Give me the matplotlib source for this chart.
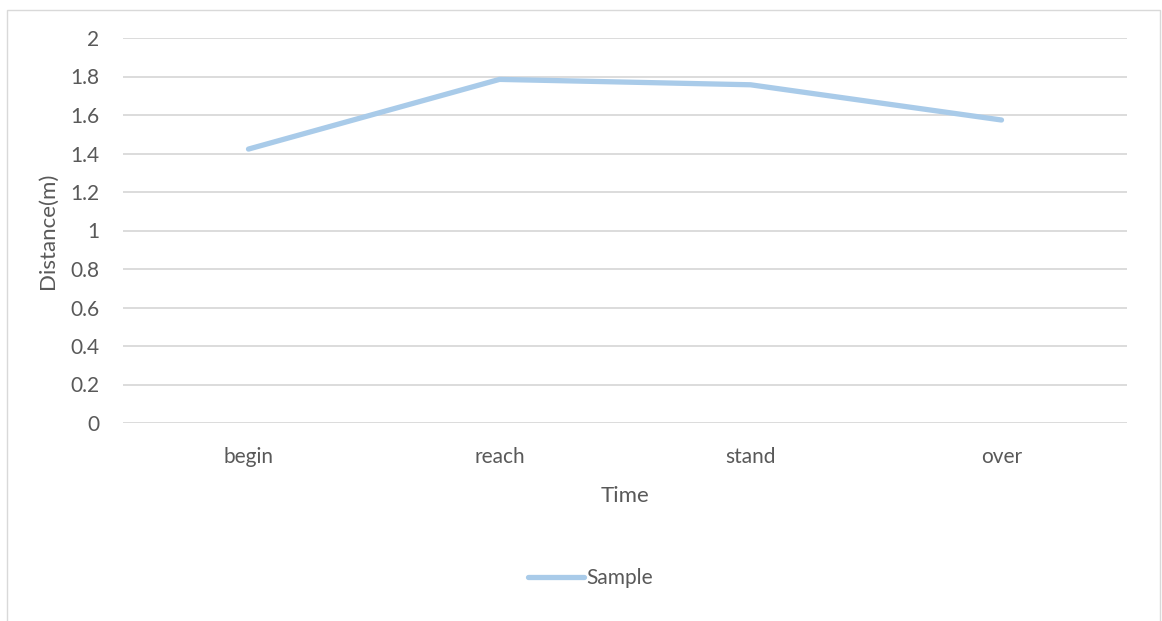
import matplotlib
matplotlib.use("Agg")
import matplotlib.pyplot as plt
from matplotlib.patches import Rectangle

categories = ["begin", "reach", "stand", "over"]
sample = [1.423, 1.785, 1.757, 1.574]
yticks = [0, 0.2, 0.4, 0.6, 0.8, 1, 1.2, 1.4, 1.6, 1.8, 2]
ytick_labels = ["0", "0.2", "0.4", "0.6", "0.8", "1", "1.2", "1.4", "1.6", "1.8", "2"]

W, H = 1162, 621
plt.rcParams["font.family"] = ["Lato", "DejaVu Sans"]
text_color = "#595959"
line_color = "#A9CBE9"
grid_color = "#D9D9D9"

fig = plt.figure(figsize=(W / 100, H / 100), dpi=100)
fig.patch.set_facecolor("white")

# outer chart border
fig.patches.append(Rectangle((7 / W, -0.05), (1160 - 7) / W, 1.05 - 10 / H,
                             transform=fig.transFigure, fill=False,
                             edgecolor="#D9D9D9", linewidth=1.0))

ax = fig.add_axes([123 / W, 1 - 423 / H, (1127 - 123) / W, (423 - 38) / H])
x = list(range(len(categories)))
ax.plot(x, sample, color=line_color, linewidth=3.8, solid_capstyle="round",
        solid_joinstyle="round", label="Sample", zorder=3)

ax.set_xlim(-0.5, len(categories) - 0.5)
ax.set_ylim(0, 2)
ax.set_yticks(yticks)
ax.set_yticklabels(ytick_labels)
ax.set_xticks(x)
ax.set_xticklabels(categories)
ax.yaxis.grid(True, color=grid_color, linewidth=1.3)
ax.set_axisbelow(True)
for s in ax.spines.values():
    s.set_visible(False)
ax.tick_params(axis="both", length=0, labelsize=15, colors=text_color)
ax.tick_params(axis="y", pad=17)
ax.tick_params(axis="x", pad=17)

ax.set_ylabel("Distance(m)", fontsize=16, color=text_color, labelpad=9)
ax.set_xlabel("Time", fontsize=16, color=text_color, labelpad=14)

leg = fig.legend(loc="center", bbox_to_anchor=(590 / W, 1 - 578 / H), frameon=False,
                 fontsize=15, handlelength=2.7, handletextpad=0.1)
for t in leg.get_texts():
    t.set_color(text_color)

fig.savefig("out.png", dpi=100, facecolor="white")
